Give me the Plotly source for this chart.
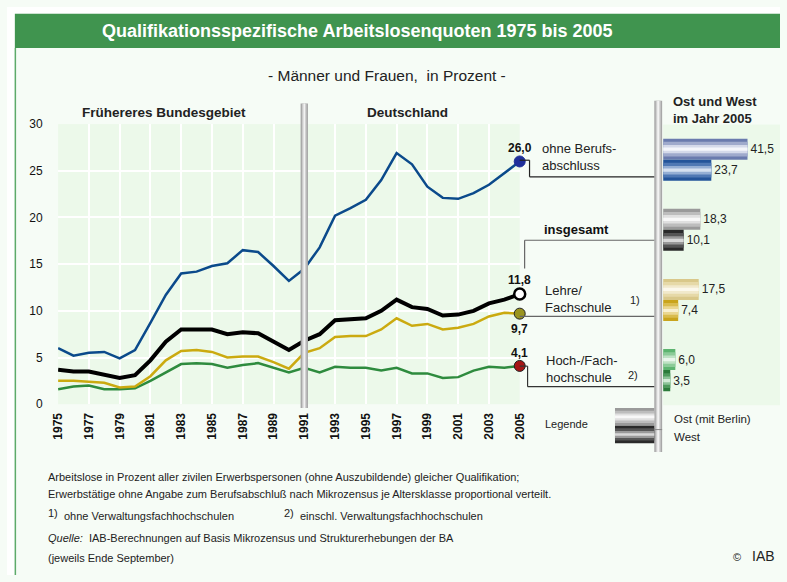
import plotly.graph_objects as go

W, H = 787, 582
FONT = "Liberation Sans, Arial, sans-serif"

# Arbeitslosenquoten nach Qualifikation, 1975-2005 (in Prozent)
years = list(range(1975, 2006))
ohne_abschluss = [6.0, 5.2, 5.5, 5.6, 4.9, 5.8, 8.7, 11.7, 14.0, 14.2, 14.8, 15.1, 16.5, 16.3, 14.8, 13.2,
                  14.5, 16.8, 20.2, 21.0, 21.9, 24.0, 26.9, 25.7, 23.3, 22.1, 22.0, 22.6, 23.5, 24.7, 26.0]
insgesamt = [3.7, 3.5, 3.5, 3.2, 2.8, 3.1, 4.7, 6.7, 8.0, 8.0, 8.0, 7.5, 7.7, 7.6, 6.7, 5.8,
             6.8, 7.5, 9.0, 9.1, 9.2, 10.0, 11.2, 10.4, 10.2, 9.5, 9.6, 10.0, 10.8, 11.2, 11.8]
lehre = [2.5, 2.5, 2.4, 2.3, 1.8, 1.9, 3.0, 4.7, 5.7, 5.8, 5.6, 5.0, 5.1, 5.1, 4.5, 3.8,
         5.5, 6.0, 7.2, 7.3, 7.3, 8.0, 9.2, 8.4, 8.6, 8.0, 8.2, 8.6, 9.4, 9.8, 9.7]
hochschule = [1.6, 1.9, 2.0, 1.6, 1.6, 1.7, 2.5, 3.4, 4.3, 4.4, 4.3, 3.9, 4.2, 4.4, 3.9, 3.4,
              3.9, 3.4, 4.0, 3.9, 3.9, 3.6, 3.9, 3.3, 3.3, 2.8, 2.9, 3.6, 4.0, 3.9, 4.1]

# Ost und West im Jahr 2005
groups = ["ohne", "insgesamt", "lehre", "hoch"]
ost_2005 = [41.5, 18.3, 17.5, 6.0]
west_2005 = [23.7, 10.1, 7.4, 3.5]


def px(x):
    return x / W


def py(y):
    return 1 - y / H


def de(v):
    return f"{v:.1f}".replace(".", ",")


fig = go.Figure()

# Linien
series = [
    (ohne_abschluss, "#0B4A8B", 2.5, "#1F2F9A", "#1F2F9A"),
    (hochschule, "#2E8B3E", 2.5, "#A51515", "#222"),
    (lehre, "#CBAA10", 2.5, "#9A9420", "#222"),
    (insgesamt, "#000000", 4, "#FFFFFF", "#000"),
]
for vals, col, w, mfill, mline in series:
    fig.add_trace(go.Scatter(x=years, y=vals, mode="lines", line=dict(color=col, width=w),
                             showlegend=False, hoverinfo="skip"))
for vals, col, w, mfill, mline in series:
    fig.add_trace(go.Scatter(x=[years[-1]], y=[vals[-1]], mode="markers", cliponaxis=False,
                             marker=dict(size=11, color=mfill, line=dict(color=mline, width=2.5 if mfill == "#FFFFFF" else 1)),
                             showlegend=False, hoverinfo="skip"))

# Werte an den Endpunkten
for vals, shift in [(ohne_abschluss, 13), (insgesamt, 14), (lehre, -15), (hochschule, 13)]:
    fig.add_annotation(x=years[-1], y=vals[-1], xref="x", yref="y", text="<b>" + de(vals[-1]) + "</b>",
                       showarrow=False, yshift=shift, font=dict(size=12, color="#111"))

# Balken Ost/West mit Verlauf (mehrere Schichten)
ost_layers = [
    ["#6A7BAE", "#9A9A9A", "#D9C88A", "#5DB470"],
    ["#9FAACC", "#BDBDBD", "#E6D9A8", "#8CCB98"],
    ["#D5DAEA", "#E0E0E0", "#F1E9CC", "#BFE2C5"],
    ["#F4F6FB", "#F8F8F8", "#FBF8EC", "#EAF6EC"],
]
west_layers = [
    ["#23549A", "#2A2A2A", "#C9A41C", "#2B7A3A"],
    ["#4F78B4", "#555555", "#D9BC4E", "#4F9A5D"],
    ["#94AED4", "#999999", "#EAD791", "#8DC398"],
    ["#D5E0F0", "#D8D8D8", "#F8F0D0", "#D2EBD6"],
]
fracs = [1.0, 0.7, 0.4, 0.15]
bw = 0.3
for vals, layers, center in [(ost_2005, ost_layers, -bw / 2), (west_2005, west_layers, bw / 2)]:
    for i, (f, cols) in enumerate(zip(fracs, layers)):
        fig.add_trace(go.Bar(
            x=vals, y=groups, orientation="h", xaxis="x2", yaxis="y2",
            width=bw * f, offset=center - bw * f / 2,
            marker=dict(color=cols, line=dict(width=0)),
            text=[de(v) for v in vals] if i == 0 else None,
            textposition="outside" if i == 0 else "none",
            textfont=dict(size=12, color="#222"), cliponaxis=False,
            showlegend=False, hoverinfo="skip"))

shapes = []
# Rahmen und Titelbalken
shapes.append(dict(type="rect", xref="paper", yref="paper", x0=0, x1=1, y0=py(7), y1=1,
                   fillcolor="white", line_width=0))
shapes.append(dict(type="rect", xref="paper", yref="paper", x0=0, x1=px(8), y0=0, y1=1,
                   fillcolor="white", line_width=0))
shapes.append(dict(type="rect", xref="paper", yref="paper", x0=px(8), x1=1, y0=py(42), y1=py(7),
                   fillcolor="#40944F", line_width=0))
shapes.append(dict(type="line", xref="paper", yref="paper", x0=px(8.5), x1=px(8.5), y0=0, y1=py(42),
                   line=dict(color="#5DAA6A", width=1.5)))

# grauer Balken 1991
for half, col in [(0.24, "#A8A8A8"), (0.14, "#CFCFCF"), (0.05, "#F2F2F2")]:
    shapes.append(dict(type="rect", xref="x", yref="paper", x0=1991 - half, x1=1991 + half,
                       y0=py(411), y1=py(99), fillcolor=col, line_width=0, layer="above"))
# grauer Balken rechts
for x0, x1, col in [(659, 667, "#A8A8A8"), (660.5, 665.5, "#CFCFCF"), (662, 664, "#F2F2F2")]:
    shapes.append(dict(type="rect", xref="paper", yref="paper", x0=px(x0), x1=px(x1),
                       y0=py(456), y1=py(96), fillcolor=col, line_width=0, layer="above"))

# Verbindungslinien
paths = [
    ([(522, 157), (532, 157), (532, 174), (659, 174)], "#222"),
    ([(527, 268), (527, 239), (659, 239)], "#666"),
    ([(522, 317), (659, 317)], "#666"),
    ([(522, 368), (530, 368), (530, 389), (659, 389)], "#333"),
]
for pts, col in paths:
    for (xa, ya), (xb, yb) in zip(pts[:-1], pts[1:]):
        shapes.append(dict(type="line", xref="paper", yref="paper", x0=px(xa), y0=py(ya),
                           x1=px(xb), y1=py(yb), line=dict(color=col, width=1.2)))

# Legende
for (y0, y1), cols in [((411, 429), ["#9A9A9A", "#BDBDBD", "#E0E0E0", "#F8F8F8"]),
                       ((429, 447), ["#2A2A2A", "#555555", "#999999", "#D8D8D8"])]:
    mid = (y0 + y1) / 2
    for f, col in zip(fracs, cols):
        h = (y1 - y0) * f / 2
        shapes.append(dict(type="rect", xref="paper", yref="paper", x0=px(619), x1=px(659),
                           y0=py(mid + h), y1=py(mid - h), fillcolor=col, line_width=0))
shapes.append(dict(type="line", xref="paper", yref="paper", x0=px(659), x1=px(667), y0=py(433), y1=py(433),
                   line=dict(color="#888", width=1)))

# Texte
texts = [
    (357, 25, "<b>Qualifikationsspezifische Arbeitslosenquoten 1975 bis 2005</b>", 18, "white", "center"),
    (387, 70, "- Männer und Frauen,  in Prozent -", 15.5, "#222", "center"),
    (160, 108, "<b>Frühereres Bundesgebiet</b>", 13.5, "#222", "center"),
    (408, 108, "<b>Deutschland</b>", 13.5, "#222", "center"),
    (676, 106, "<b>Ost und West<br>im Jahr 2005</b>", 13, "#222", "left"),
    (543, 154, "ohne Berufs-<br>abschluss", 13, "#222", "left"),
    (545, 228, "<b>insgesamt</b>", 13, "#111", "left"),
    (546, 299, "Lehre/<br>Fachschule", 13, "#222", "left"),
    (632, 300, "1)", 11, "#222", "left"),
    (547, 371, "Hoch-/Fach-<br>hochschule", 13, "#222", "left"),
    (630, 377, "2)", 11, "#222", "left"),
    (546, 427, "Legende", 11, "#222", "left"),
    (677, 422, "Ost (mit Berlin)", 11.5, "#222", "left"),
    (677, 441, "West", 11.5, "#222", "left"),
    (40, 482, "Arbeitslose in Prozent aller zivilen Erwerbspersonen (ohne Auszubildende) gleicher Qualifikation;", 11, "#222", "left"),
    (40, 499, "Erwerbstätige ohne Angabe zum Berufsabschluß nach Mikrozensus je Altersklasse proportional verteilt.", 11, "#222", "left"),
    (40, 518, "1)", 11, "#222", "left"),
    (56, 522, "ohne Verwaltungsfachhochschulen", 11, "#222", "left"),
    (280, 518, "2)", 11, "#222", "left"),
    (296, 522, "einschl. Verwaltungsfachhochschulen", 11, "#222", "left"),
    (40, 544, "<i>Quelle:</i>  IAB-Berechnungen auf Basis Mikrozensus und Strukturerhebungen der BA", 11, "#222", "left"),
    (40, 565, "(jeweils Ende September)", 11, "#222", "left"),
    (737, 564, "©", 11, "#222", "left"),
    (756, 563, "IAB", 14, "#222", "left"),
]
for x, y, t, s, c, a in texts:
    fig.add_annotation(x=px(x), y=py(y), xref="paper", yref="paper", text=t, showarrow=False,
                       xanchor=a, yanchor="middle", align="left", font=dict(size=s, color=c))

fig.update_layout(
    width=W, height=H,
    margin=dict(l=0, r=0, t=0, b=0),
    paper_bgcolor="#F6FCF6",
    plot_bgcolor="#ECF9EA",
    font=dict(family=FONT, color="#222"),
    barmode="overlay",
    shapes=shapes,
    xaxis=dict(domain=[px(52), px(522)], range=[1975, 2005], tickvals=years[::2],
               tickangle=-90, tickfont=dict(size=12, color="#111", weight="bold"),
               gridcolor="white", gridwidth=2, zeroline=False, showline=False,
               ticks="outside", ticklen=3, tickcolor="rgba(0,0,0,0)"),
    yaxis=dict(domain=[py(407), py(120)], range=[0, 30], dtick=5,
               tickfont=dict(size=12, color="#111"),
               gridcolor="white", gridwidth=2, zeroline=False, showline=False,
               ticks="outside", ticklen=12, tickcolor="rgba(0,0,0,0)"),
    xaxis2=dict(domain=[px(668), 1.0], range=[0, (W - 668) / 2.07], anchor="y2",
                visible=False),
    yaxis2=dict(domain=[py(408), py(120.5)], type="category", categoryorder="array",
                categoryarray=groups, range=[3.5, -0.5], anchor="x2", visible=False),
)

fig.write_html("out.html", config={"displayModeBar": False},
               post_script="document.body.style.margin='0';")
